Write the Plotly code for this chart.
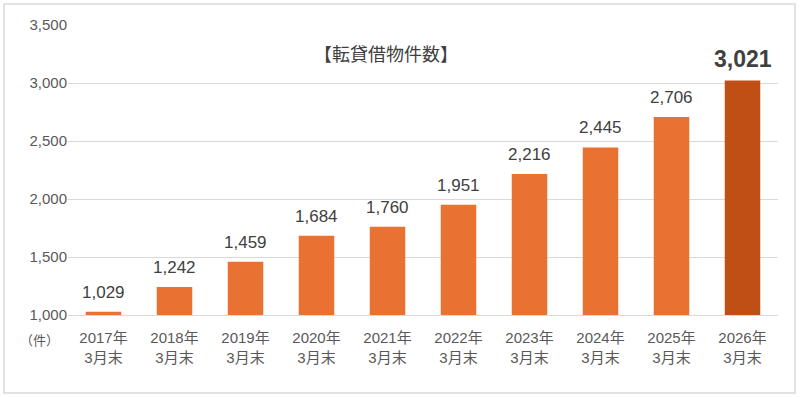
import plotly.graph_objects as go

categories = ["2017年<br>3月末", "2018年<br>3月末", "2019年<br>3月末", "2020年<br>3月末", "2021年<br>3月末",
              "2022年<br>3月末", "2023年<br>3月末", "2024年<br>3月末", "2025年<br>3月末", "2026年<br>3月末"]
values = [1029, 1242, 1459, 1684, 1760, 1951, 2216, 2445, 2706, 3021]
tick_vals = [1000, 1500, 2000, 2500, 3000, 3500]
tick_text = ["1,000", "1,500", "2,000", "2,500", "3,000", "3,500"]

colors = ["#E97132"] * (len(values) - 1) + ["#C04F15"]

fig = go.Figure(go.Bar(
    x=categories, y=values, marker_color=colors, marker_line_width=0,
))

annotations = []
for i, (c, v) in enumerate(zip(categories, values)):
    last = i == len(values) - 1
    annotations.append(dict(
        x=c, y=v, xref="x", yref="y", yanchor="bottom", xanchor="center", showarrow=False,
        text=f"<b>{v:,}</b>" if last else f"{v:,}",
        yshift=7 if last else 8,
        font=dict(size=23 if last else 17, color="#404040"),
    ))
annotations += [
    dict(text="【転貸借物件数】", x=0.448, y=0.903, xref="paper", yref="paper",
         xanchor="center", yanchor="middle",
         showarrow=False, font=dict(size=18, color="#404040",
                                    family="Noto Sans CJK JP, sans-serif")),
    dict(text="（件）", x=-0.04, y=-0.083, xref="paper", yref="paper", showarrow=False,
         xanchor="center", yanchor="middle",
         font=dict(size=13, color="#595959", family="Noto Sans CJK JP, sans-serif")),
]

fig.update_layout(
    width=800, height=397,
    margin=dict(l=68, r=22, t=25, b=82, autoexpand=False),
    paper_bgcolor="white", plot_bgcolor="white",
    bargap=0.5, showlegend=False,
    font=dict(family="Liberation Sans, Noto Sans CJK JP, sans-serif", color="#595959"),
    xaxis=dict(tickfont=dict(size=15, color="#595959"), showline=True, linecolor="#D9D9D9",
               linewidth=1, ticks="", ticklabelstandoff=9),
    yaxis=dict(range=[1000, 3500], tickvals=tick_vals, ticktext=tick_text,
               tickfont=dict(size=15, color="#595959"), showgrid=True, gridcolor="#D9D9D9",
               gridwidth=1, zeroline=False, ticks="", ticklen=0),
    annotations=annotations,
    shapes=[dict(type="rect", xref="paper", yref="paper", x0=-0.0901, x1=1.0239, y0=-0.269, y1=1.0724,
                 line=dict(color="#D9D9D9", width=1.5))],
)

fig.write_html("out.html", config={"displayModeBar": False},
               post_script="document.body.style.margin='0';document.body.style.overflow='hidden';")
